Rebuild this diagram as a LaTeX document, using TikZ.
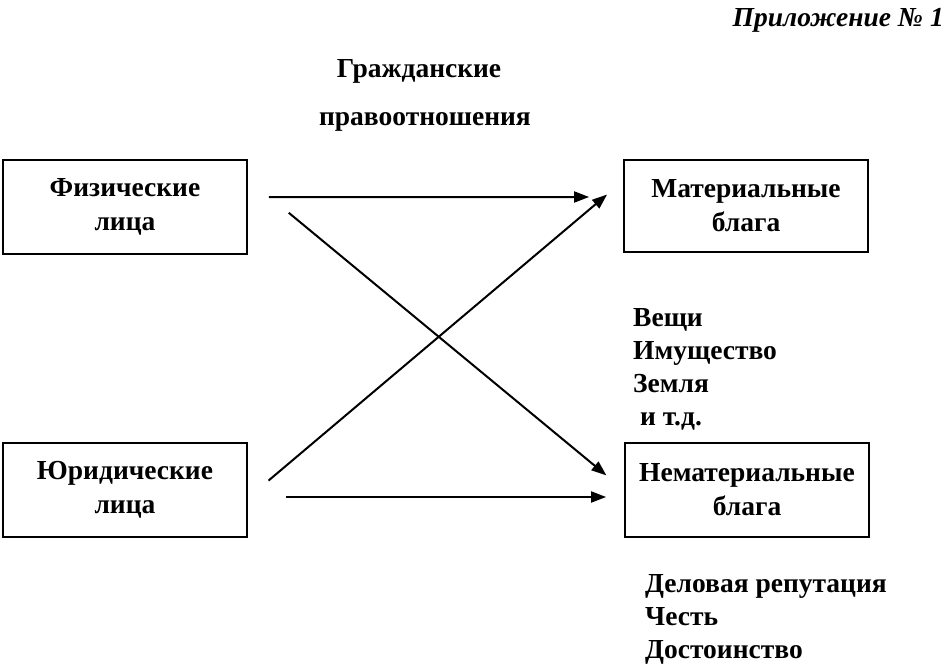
\documentclass[tikz,border=0pt]{standalone}
\usepackage{fontspec}
\setmainfont{Liberation Serif}
\usetikzlibrary{arrows.meta}
\begin{document}
\begin{tikzpicture}[
        x=1bp, y=-1bp,
        font=\fontsize{27.5bp}{34bp}\selectfont\bfseries,
        boxnode/.style={draw=black, line width=1.8bp, minimum width=244bp, minimum height=94bp, align=center, inner sep=0pt},
        listnode/.style={anchor=north west, align=left, inner sep=0pt, font=\fontsize{27.5bp}{33bp}\selectfont\bfseries},
        arr/.style={line width=2bp, -{Triangle[length=15bp,width=11bp]}},
        ]
        \useasboundingbox (0,0) rectangle (947,669);

        % Nodes
        \node[boxnode] (fiz)   at (125,207) {Физические\\лица};
        \node[boxnode] (yur)   at (125,490) {Юридические\\лица};
        \node[boxnode, minimum height=92bp] (mat) at (746,206) {Материальные\\блага};
        \node[boxnode] (nemat) at (747,490) {Нематериальные\\блага};

        \node[anchor=north east, inner sep=0pt, font=\fontsize{27.5bp}{30bp}\selectfont\bfseries\itshape] (app) at (944,8) {Приложение №~1};
        \node (title1) at (419,71) {Гражданские};
        \node (title2) at (425,122) {правоотношения};

        \node[listnode] (things) at (633,308) {Вещи\\Имущество\\Земля\\\ и т.д.};
        \node[listnode] (values) at (645,574) {Деловая репутация\\Честь\\Достоинство};

        \draw[arr, shorten <=21bp, shorten >=34bp] ([yshift=10bp]fiz.east) -- ([yshift=9bp]mat.west);
        \draw[arr, shorten <=53bp, shorten >=23bp] ([yshift=28bp]fiz.east) -- (nemat.west);
        \draw[arr, shorten <=27bp, shorten >=21bp] ([yshift=-8bp]yur.east) -- ([yshift=25bp]mat.west);
        \draw[arr, shorten <=38bp, shorten >=18bp] ([yshift=-7bp]yur.east) -- ([yshift=-7bp]nemat.west);

    \end{tikzpicture}
\end{document}
